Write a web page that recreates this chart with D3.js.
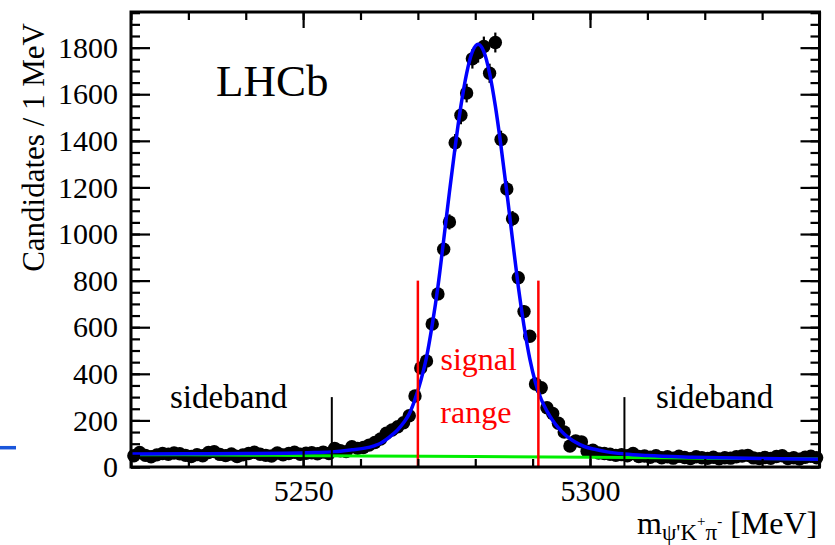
<!DOCTYPE html>
<html>
<head>
    <meta charset="utf-8">
    <title>psi(2S) K+ pi- invariant mass</title>
    <script src="https://d3js.org/d3.v7.min.js"></script>
    <style>
        body { margin: 0; background: #fff; }
        svg text { font-family: "Liberation Serif", "Times New Roman", serif; fill: #000; }
    </style>
</head>
<body>
    <div id="chart"></div>

    <script>
        // candidates per 1 MeV bin, first bin starts at 5220 MeV
        const binStart = 5220;
        const binWidth = 1;
        const counts = [
            48, 62, 50, 44, 52, 58, 55, 60, 57, 50,
            45, 53, 48, 62, 66, 54, 49, 56, 45, 52,
            58, 63, 55, 50, 47, 60, 52, 58, 63, 55,
            59, 61, 57, 64, 58, 80, 70, 66, 87, 80,
            84, 94, 105, 120, 145, 159, 173, 190, 220, 305,
            425, 455, 614, 743, 935, 1052, 1392, 1510, 1605, 1752,
            1778, 1805, 1690, 1822, 1406, 1193, 1066, 812, 667, 561,
            356, 340, 254, 230, 188, 150, 90, 112, 108, 68,
            72, 60, 58, 55, 50, 53, 48, 58, 45, 47,
            42, 48, 40, 44, 38, 46, 41, 36, 44, 40,
            37, 42, 35, 40, 38, 44, 47, 50, 39, 36,
            41, 37, 45, 48, 36, 40, 34, 42, 46, 40
        ];

        // total fit (blue)
        const fitMass = [5220, 5230, 5240, 5247, 5252, 5255.5, 5258.5, 5260.5, 5262.5, 5263.5,
            5264.5, 5265.5, 5266.5, 5267.5, 5268.5, 5269.5, 5270.5, 5271.5, 5272.5, 5273.5,
            5274.5, 5275.5, 5276.5, 5277.5, 5278.5, 5279.5, 5280.5, 5281.5, 5282.5, 5283.5,
            5284.5, 5285.5, 5286.5, 5287.5, 5288.5, 5289.5, 5290.5, 5291.5, 5292.5, 5293.5,
            5294.5, 5295.5, 5296.5, 5297.5, 5299, 5301, 5303, 5306, 5310, 5318, 5330, 5340];
        const fitTotal = [56, 57, 58, 59, 62, 66, 74, 80, 92, 102,
            118, 138, 160, 190, 228, 290, 370, 470, 610, 775,
            975, 1180, 1375, 1550, 1690, 1783, 1815, 1783, 1690, 1550,
            1375, 1180, 975, 775, 605, 465, 362, 290, 240, 200,
            168, 142, 122, 106, 88, 75, 65, 56, 49, 42, 36, 33];

        // background component (green)
        const bkgMass = [5220, 5245, 5260, 5280, 5300, 5320, 5340];
        const bkgValues = [53, 50, 47, 45, 42, 38, 34];

        // selection boundaries
        const signalRange = [5270, 5291];
        const signalLineTop = 800;
        const sidebandCuts = [5255, 5306];
        const sidebandLineTop = 300;

        const xMajor = [5250, 5300];
        const xMinor = d3.range(5220, 5341, 10);
        const yMajor = [0, 200, 400, 600, 800, 1000, 1200, 1400, 1600, 1800];
        const yMinor = d3.range(0, 1951, 50);

        const W = 835, H = 545;
        const margin = {top: 12, right: 15.5, bottom: 78, left: 131};
        const width = W - margin.left - margin.right;
        const height = H - margin.top - margin.bottom;

        const root = d3.select("#chart").append("svg")
            .attr("width", W)
            .attr("height", H);

        // stray legend fragment at the far left edge
        root.append("line")
            .attr("x1", 0).attr("x2", 16)
            .attr("y1", 447.7).attr("y2", 447.7)
            .attr("stroke", "#1a56db")
            .attr("stroke-width", 3.5);

        const svg = root.append("g")
            .attr("transform", "translate(" + margin.left + "," + margin.top + ")");

        const x = d3.scaleLinear().domain([5220, 5340]).range([0, width]);
        const y = d3.scaleLinear().domain([0, 1953]).range([height, 0]);

        const points = counts.map((c, i) => ({m: binStart + (i + 0.5) * binWidth, n: c}));

        // error bars
        svg.selectAll(".err")
            .data(points)
            .enter().append("line")
            .attr("class", "err")
            .attr("x1", d => x(d.m)).attr("x2", d => x(d.m))
            .attr("y1", d => y(d.n - Math.sqrt(d.n)))
            .attr("y2", d => y(d.n + Math.sqrt(d.n)))
            .attr("stroke", "#000")
            .attr("stroke-width", 2.2);

        // data markers
        svg.selectAll(".pt")
            .data(points)
            .enter().append("circle")
            .attr("class", "pt")
            .attr("cx", d => x(d.m))
            .attr("cy", d => y(d.n))
            .attr("r", 6.7)
            .attr("fill", "#000");

        const line = d3.line()
            .x(d => x(d[0]))
            .y(d => y(d[1]))
            .curve(d3.curveMonotoneX);

        // background
        svg.append("path")
            .datum(bkgMass.map((m, i) => [m, bkgValues[i]]))
            .attr("d", line)
            .attr("fill", "none")
            .attr("stroke", "#00ee00")
            .attr("stroke-width", 3);

        // total fit
        svg.append("path")
            .datum(fitMass.map((m, i) => [m, fitTotal[i]]))
            .attr("d", line)
            .attr("fill", "none")
            .attr("stroke", "#0000ff")
            .attr("stroke-width", 3.5);

        // signal range lines
        svg.selectAll(".sig")
            .data(signalRange)
            .enter().append("line")
            .attr("x1", d => x(d)).attr("x2", d => x(d))
            .attr("y1", y(0)).attr("y2", y(signalLineTop))
            .attr("stroke", "#ff0000")
            .attr("stroke-width", 2.5);

        // sideband boundaries
        svg.selectAll(".sb")
            .data(sidebandCuts)
            .enter().append("line")
            .attr("x1", d => x(d)).attr("x2", d => x(d))
            .attr("y1", y(0)).attr("y2", y(sidebandLineTop))
            .attr("stroke", "#000")
            .attr("stroke-width", 2);

        // axes: ticks point into the frame
        function styleAxis(g) {
            g.select(".domain").remove();
            g.selectAll(".tick line").attr("stroke", "#000").attr("stroke-width", 2.2);
        }
        function styleLabels(g) {
            g.selectAll("text")
                .attr("font-family", "Liberation Serif")
                .attr("font-size", 30)
                .attr("fill", "#000");
        }

        svg.append("g")
            .attr("transform", "translate(0," + height + ")")
            .call(d3.axisBottom(x).tickValues(xMinor).tickSize(-8).tickFormat(""))
            .call(styleAxis);
        svg.append("g")
            .attr("transform", "translate(0," + height + ")")
            .call(d3.axisBottom(x).tickValues(xMajor).tickSize(-16).tickPadding(13).tickFormat(d3.format("d")))
            .call(styleAxis)
            .call(styleLabels);
        svg.append("g")
            .call(d3.axisTop(x).tickValues(xMinor).tickSize(-8).tickFormat(""))
            .call(styleAxis);
        svg.append("g")
            .call(d3.axisTop(x).tickValues(xMajor).tickSize(-16).tickFormat(""))
            .call(styleAxis);

        svg.append("g")
            .call(d3.axisLeft(y).tickValues(yMinor).tickSize(-9).tickFormat(""))
            .call(styleAxis);
        svg.append("g")
            .call(d3.axisLeft(y).tickValues(yMajor).tickSize(-19).tickPadding(13).tickFormat(d3.format("d")))
            .call(styleAxis)
            .call(styleLabels);
        svg.append("g")
            .attr("transform", "translate(" + width + ",0)")
            .call(d3.axisRight(y).tickValues(yMinor).tickSize(-9).tickFormat(""))
            .call(styleAxis);
        svg.append("g")
            .attr("transform", "translate(" + width + ",0)")
            .call(d3.axisRight(y).tickValues(yMajor).tickSize(-19).tickFormat(""))
            .call(styleAxis);

        // frame
        svg.append("rect")
            .attr("width", width)
            .attr("height", height)
            .attr("fill", "none")
            .attr("stroke", "#000")
            .attr("stroke-width", 3);

        // labels
        svg.append("text")
            .attr("x", 85).attr("y", 84)
            .attr("font-size", 45)
            .text("LHCb");

        svg.append("text")
            .attr("x", x(5280.6)).attr("y", 358)
            .attr("text-anchor", "middle")
            .attr("font-size", 32)
            .style("fill", "#ff0000")
            .text("signal");
        svg.append("text")
            .attr("x", x(5280.1)).attr("y", 411)
            .attr("text-anchor", "middle")
            .attr("font-size", 32)
            .style("fill", "#ff0000")
            .text("range");

        svg.append("text")
            .attr("x", 39).attr("y", 396)
            .attr("font-size", 33)
            .text("sideband");
        svg.append("text")
            .attr("x", 525).attr("y", 396)
            .attr("font-size", 33)
            .text("sideband");

        root.append("text")
            .attr("transform", "translate(43.5,23) rotate(-90)")
            .attr("text-anchor", "end")
            .attr("font-size", 31)
            .text("Candidates / 1 MeV");

        const xt = root.append("text")
            .attr("x", 637).attr("y", 534)
            .attr("font-size", 32);
        xt.append("tspan").text("m");
        xt.append("tspan").attr("font-size", 23).attr("dy", 6).text("\u03C8'K");
        xt.append("tspan").attr("font-size", 15).attr("dy", -14).text("+");
        xt.append("tspan").attr("font-size", 23).attr("dy", 14).text("\u03C0");
        xt.append("tspan").attr("font-size", 15).attr("dy", -14).text("-");
        xt.append("tspan").attr("dy", 8).text(" [MeV]");
    </script>
</body>
</html>
